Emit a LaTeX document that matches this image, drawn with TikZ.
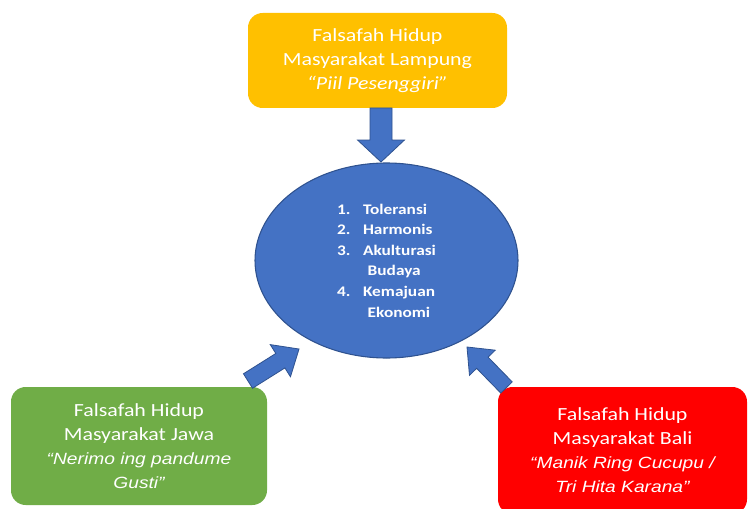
\documentclass[tikz,border=0pt]{standalone}
\usepackage{fontspec}
\setmainfont{Carlito}[FakeStretch=1.18]
\newfontfamily\quotefont{Liberation Sans}[FakeStretch=1.18]
\usepackage{tikz}
\usetikzlibrary{calc}
\usetikzlibrary{shapes.geometric}
\usetikzlibrary{positioning}
\usepackage{xcolor}
\definecolor{lampungfill}{HTML}{FFC000}
\definecolor{jawafill}{HTML}{70AD47}
\definecolor{balifill}{HTML}{FF0000}
\definecolor{centerfill}{HTML}{4472C4}
\definecolor{centerline}{HTML}{2F528F}
\newcommand\quoteit[1]{{\quotefont\itshape\fontsize{12.2}{18}\selectfont #1}}
\newcommand\blockarrow[4]{
  \coordinate (#1base) at ($(#2)!16.5pt!(#1)$);
  \draw[fill=centerfill, draw=centerline, line width=0.6pt]
    ($(#1)!#3!-90:(#2)$) -- ($(#1base)!#3!-90:(#2)$) -- ($(#1base)!#4!-90:(#2)$)
    -- (#2) -- ($(#1base)!#4!90:(#2)$) -- ($(#1base)!#3!90:(#2)$) -- ($(#1)!#3!90:(#2)$) -- cycle;
}

\begin{document}
\begin{tikzpicture}[x=0.75pt, y=0.75pt,
    falsafah/.style={rectangle, rounded corners=11pt, text=white, align=center,
      font=\fontsize{13.9}{18}\selectfont}]
    \useasboundingbox (0,0) rectangle (749,508);
    \fill[white] (0,0) rectangle (749,508);

    \node[falsafah, fill=lampungfill, minimum width=194.25pt, minimum height=71.25pt] (lampung) at (377.5, 447.5)
      {Falsafah Hidup\\Masyarakat Lampung\\\textit{“Piil Pesenggiri”}};

    \node[ellipse, fill=centerfill, draw=centerline, line width=0.8pt, minimum width=197.25pt, minimum height=146.25pt,
      text=white, align=left, font=\bfseries\fontsize{11}{15.45}\selectfont] (hasil) at (386.5, 247.5)
      {\makebox[19.5pt][l]{1.}Toleransi\\\makebox[19.5pt][l]{2.}Harmonis\\\makebox[19.5pt][l]{3.}Akulturasi\\
       \hspace*{23pt}Budaya\\\makebox[19.5pt][l]{4.}Kemajuan\\\hspace*{23pt}Ekonomi};

    \node[falsafah, fill=jawafill, minimum width=192pt, minimum height=88.5pt] (jawa) at (139, 62)
      {Falsafah Hidup\\Masyarakat Jawa\\\quoteit{“Nerimo ing pandume}\\\quoteit{Gusti”}};

    \node[falsafah, fill=balifill, minimum width=186.75pt, minimum height=95.25pt] (bali) at (622.5, 57.5)
      {Falsafah Hidup\\Masyarakat Bali\\\quoteit{“Manik Ring Cucupu /}\\\quoteit{Tri Hita Karana”}};

    % block arrows into the ellipse
    \coordinate (lampungtail) at (381, 400);
    \coordinate (lampungtip) at (381, 346);
    \coordinate (jawatail) at (248, 127);
    \coordinate (jawatip) at (299, 159);
    \coordinate (balitail) at (506.5, 120.5);
    \coordinate (balitip) at (467, 161);
    \blockarrow{lampungtail}{lampungtip}{8.25pt}{17.6pt}
    \blockarrow{jawatail}{jawatip}{6.4pt}{14.25pt}
    \blockarrow{balitail}{balitip}{6pt}{13.5pt}
\end{tikzpicture}
\end{document}
